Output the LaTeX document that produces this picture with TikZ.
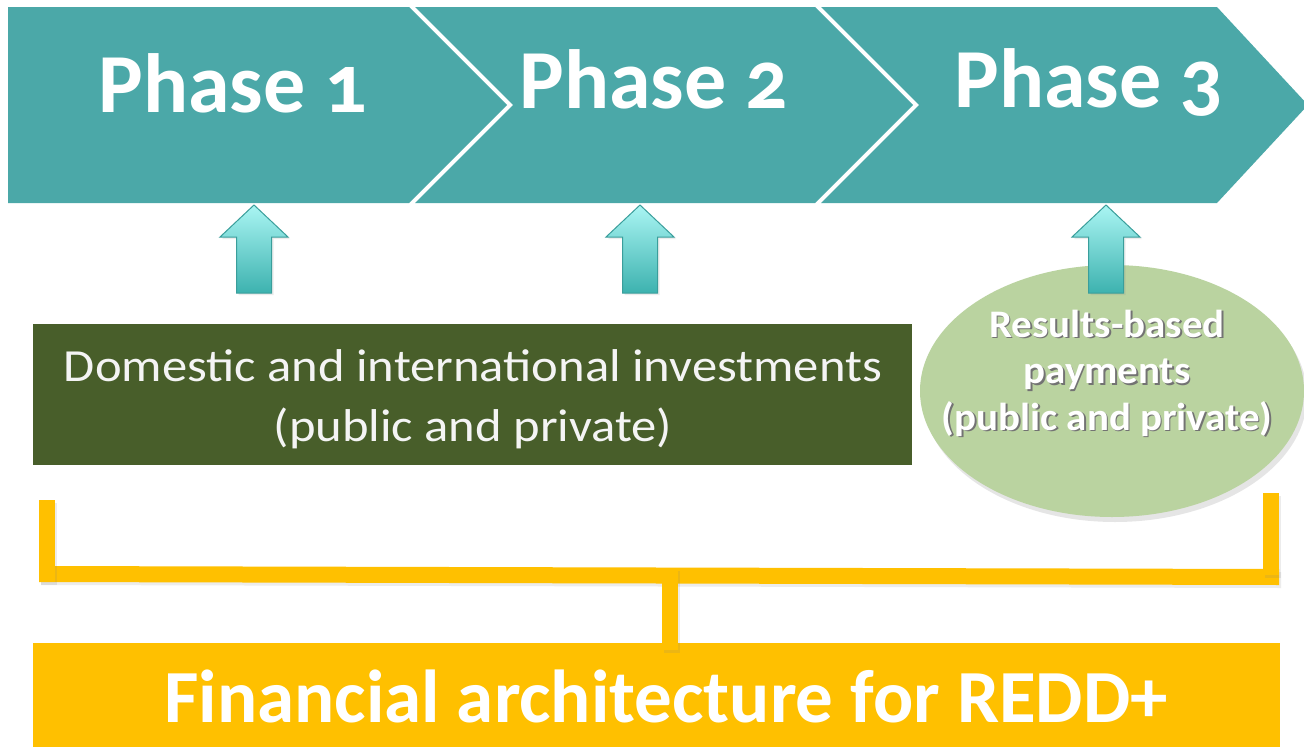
\documentclass[tikz,border=0pt]{standalone}
\usepackage{fontspec}
\setmainfont{Carlito}
\newfontfamily\phasefont[Numbers=OldStyle]{Carlito}
\usetikzlibrary{shadows,shapes.geometric}
\definecolor{phaseteal}{HTML}{4BA8A8}
\definecolor{domgreen}{HTML}{485E2A}
\definecolor{ellgreen}{HTML}{BAD3A0}
\definecolor{gold}{HTML}{FFC000}
\definecolor{arrowtop}{HTML}{AAF5F3}
\definecolor{arrowbot}{HTML}{3DB2AF}
\definecolor{arrowedge}{HTML}{3A9E9B}
\definecolor{offwhite}{HTML}{F4F4F4}
\newcommand\shtext[1]{\leavevmode\rlap{\kern1.6pt\raisebox{-1.6pt}{\textcolor{black!55}{#1}}}#1}
\newcommand\wide[1]{\scalebox{1.1}[1]{#1}}
\tikzset{
  chevron/.style={fill=phaseteal},
  phasetext/.style={anchor=base, text=white, inner sep=0,
    font=\phasefont\bfseries\fontsize{84}{84}\selectfont},
  uparrow/.style={draw=arrowedge, line width=1pt, top color=arrowtop, bottom color=arrowbot,
    drop shadow={shadow xshift=2pt, shadow yshift=-2pt, opacity=0.15}},
  softshadow/.style={drop shadow={shadow xshift=2pt, shadow yshift=-3pt, opacity=0.15}},
  barpiece/.style={fill=gold, softshadow},
  blockbox/.style={rectangle, inner sep=0, draw=none},
}
\begin{document}
\begin{tikzpicture}[x=1pt,y=-1pt]
\useasboundingbox[fill=white] (0,0) rectangle (1304,747);
\clip (0,0) rectangle (1304,747);
% chevrons
\fill[chevron] (8,7) -- (409,7) -- (507,105) -- (409,203) -- (8,203) -- cycle;
\fill[chevron] (415,7) -- (815,7) -- (913,105) -- (815,203) -- (415,203) -- (513,105) -- cycle;
\fill[chevron] (821,7) -- (1217,7) -- (1308,105) -- (1217,203) -- (821,203) -- (919,105) -- cycle;
\node[phasetext] (p1) at (233,112) {Phase 1};
\node[phasetext] (p2) at (654,108) {Phase 2};
\node[phasetext] (p3) at (1089,107) {Phase 3};
% domestic box
\node[blockbox, fill=domgreen, minimum width=879, minimum height=141] (dom) at (472.5,394.5) {};
\node[text=offwhite, align=center, inner sep=0, font=\fontsize{46}{60}\selectfont] (domtext) at (473,399)
  {\wide{Domestic and international investments}\\\wide{(public and private)}};
% results ellipse
\node[ellipse, fill=ellgreen, minimum width=384, minimum height=252, inner sep=0,
  drop shadow={shadow xshift=3pt, shadow yshift=-5pt, opacity=0.2}] (res) at (1112,391) {};
\node[text=white, align=center, inner sep=0, font=\bfseries\fontsize{39}{46.5}\selectfont] (restext) at (1107,374)
  {\scalebox{1.05}[1]{\shtext{Results-based}}\\\scalebox{1.05}[1]{\shtext{payments}}\\\scalebox{1.05}[1]{\shtext{(public and private)}}};
% up arrows
\foreach \cx/\nm in {254/a1,640/a2,1106/a3}{
  \path[uparrow] (\cx,205) -- (\cx+34,237) -- (\cx+17.5,237) -- (\cx+17.5,293)
     -- (\cx-17.5,293) -- (\cx-17.5,237) -- (\cx-34,237) -- cycle;
}
% bottom box
\node[blockbox, fill=gold, minimum width=1247, minimum height=104] (fin) at (656.5,695) {};
\node[anchor=base, text=white, inner sep=0, font=\bfseries\fontsize{75}{75}\selectfont] (fintext) at (666,722)
  {Financial architecture for REDD+};
% bracket
\path[barpiece] (39,566) -- (1279,569) -- (1279,585) -- (39,582) -- cycle;
\path[barpiece] (39,500) rectangle (55,582);
\path[barpiece] (1263,493) rectangle (1279,575);
\path[barpiece] (662,568) rectangle (678,650);
\end{tikzpicture}
\end{document}
